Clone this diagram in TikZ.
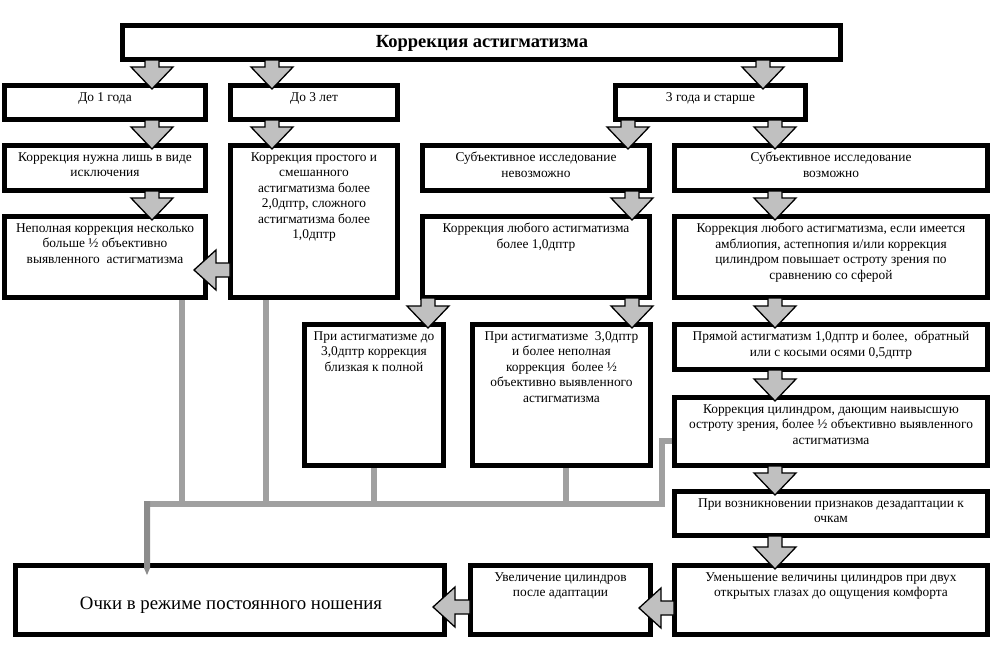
\documentclass[tikz,border=0pt]{standalone}
\usepackage{fontspec}
\setmainfont{Liberation Serif}
\usetikzlibrary{calc}
\definecolor{arrgray}{HTML}{C0C0C0}
\definecolor{busgray}{HTML}{A0A0A0}
\definecolor{busdark}{HTML}{8C8C8C}
\tikzset{
  boxnode/.style={draw=black, line width=4.6pt, fill=white, rectangle, inner sep=0pt},
  txt/.style={align=center, inner sep=0pt, font=\fontsize{13.4}{15.5}\selectfont, anchor=north},
  blockarr/.style={draw=black, line width=1.3pt, fill=arrgray, line join=miter},
  busline/.style={draw=busgray, line width=6pt},
}
\newcommand\bxonly[5]{%
  \node[boxnode, minimum width={#4-#2-4.6}, minimum height={#5-#3-4.6}] (#1) at ({(#2+#4)/2},{(#3+#5)/2}) {};}
\newcommand\bx[6]{%
  \bxonly{#1}{#2}{#3}{#4}{#5}%
  \node[txt] (#1t) at ([yshift=-9pt]#1.north) {\rule{0pt}{9pt}#6};}
\newcommand\dn[3]{%
  \coordinate (ds) at (#1.south -| #3,0);
  \coordinate (dt) at (#2.north -| #3,0);
  \filldraw[blockarr] ($(ds)+(-7,-2)$) -- ($(dt)+(-7,-16)$) -- ($(dt)+(-21,-16)$) -- ($(dt)+(0,6)$)
    -- ($(dt)+(21,-16)$) -- ($(dt)+(7,-16)$) -- ($(ds)+(7,-2)$) -- cycle;}
\newcommand\lf[3]{%
  \coordinate (ls) at (#1.west |- 0,#3);
  \coordinate (lt) at (#2.east |- 0,#3);
  \filldraw[blockarr] ($(ls)+(2,-7)$) -- ($(lt)+(8,-7)$) -- ($(lt)+(8,-20)$) -- ($(lt)+(-14,0)$)
    -- ($(lt)+(8,20)$) -- ($(lt)+(8,7)$) -- ($(ls)+(2,7)$) -- cycle;}
\begin{document}
\begin{tikzpicture}[x=1pt,y=-1pt]
\useasboundingbox[fill=white] (0,0) rectangle (999,649);

% boxes
\bxonly{T}{120}{23}{843}{62}
\node[anchor=base, inner sep=0pt, font=\bfseries\fontsize{18.5}{21}\selectfont] (Tt) at (482,47) {Коррекция астигматизма};
\bx{A1}{2}{83}{208}{122}{До 1 года}
\bx{A2}{228}{83}{400}{122}{До 3 лет}
\bx{A3}{613}{83}{808}{122}{3 года и старше}
\bx{B1}{2}{143}{208}{193}{Коррекция нужна лишь в виде\\исключения}
\bx{B2}{228}{143}{400}{300}{Коррекция простого и\\смешанного\\астигматизма более\\2,0дптр, сложного\\астигматизма более\\1,0дптр}
\bx{B3}{420}{143}{652}{193}{Субъективное исследование\\невозможно}
\bx{B4}{672}{143}{990}{193}{Субъективное исследование\\возможно}
\bx{C1}{2}{214}{208}{300}{Неполная коррекция несколько\\больше ½ объективно\\выявленного\ \ астигматизма}
\bx{C3}{420}{214}{652}{300}{Коррекция любого астигматизма\\более 1,0дптр}
\bx{C4}{672}{214}{990}{300}{Коррекция любого астигматизма, если имеется\\амблиопия, астепнопия и/или коррекция\\цилиндром повышает остроту зрения по\\сравнению со сферой}
\bx{D1}{302}{322}{446}{468}{При астигматизме до\\3,0дптр коррекция\\близкая к полной}
\bx{D2}{470}{322}{653}{468}{При астигматизме\ \ 3,0дптр\\и более неполная\\коррекция\ \ более ½\\объективно выявленного\\астигматизма}
\bx{D4}{672}{322}{990}{372}{Прямой астигматизм 1,0дптр и более,\ \ обратный\\или с косыми осями 0,5дптр}
\bx{E4}{672}{395}{990}{468}{Коррекция цилиндром, дающим наивысшую\\остроту зрения, более ½ объективно выявленного\\астигматизма}
\bx{F4}{672}{489}{990}{538}{При возникновении признаков дезадаптации к\\очкам}
\bx{G4}{672}{563}{990}{637}{Уменьшение величины цилиндров при двух\\открытых глазах до ощущения комфорта}
\bx{G2}{468}{563}{653}{637}{Увеличение цилиндров\\после адаптации}
\bxonly{G1}{13}{563}{447}{637}
\node[anchor=base, inner sep=0pt, font=\fontsize{18.8}{22}\selectfont] (G1t) at (231,609) {Очки в режиме постоянного ношения};

% gray bus connectors
\coordinate (busL) at (147,504);
\coordinate (busR) at (662,504);
\draw[busline] (C1.south -| 182,0) |- (busL);
\draw[busline] (B2.south -| 266,0) |- (busL);
\draw[busline] (D1.south -| 374,0) |- (busL);
\draw[busline] (D2.south -| 566,0) |- (busL);
\draw[busline] (E4.west |- 0,441) -| (busR) -- (busL);
\coordinate (tipc) at ($(G1.north -| busL)+(0,12)$);
\fill[busdark] ($(busL)+(-3,-3)$) -- ($(tipc)+(-3,-7)$) -- (tipc) -- ($(tipc)+(3,-7)$) -- ($(busL)+(3,-3)$) -- cycle;

% block arrows
\dn{T}{A1}{152}
\dn{T}{A2}{272}
\dn{T}{A3}{763}
\dn{A1}{B1}{152}
\dn{A2}{B2}{272}
\dn{A3}{B3}{628}
\dn{A3}{B4}{775}
\dn{B1}{C1}{152}
\dn{B3}{C3}{632}
\dn{B4}{C4}{775}
\dn{C3}{D1}{428}
\dn{C3}{D2}{632}
\dn{C4}{D4}{775}
\dn{D4}{E4}{775}
\dn{E4}{F4}{775}
\dn{F4}{G4}{775}
\lf{B2}{C1}{270}
\lf{G4}{G2}{608}
\lf{G2}{G1}{607}
\end{tikzpicture}
\end{document}
